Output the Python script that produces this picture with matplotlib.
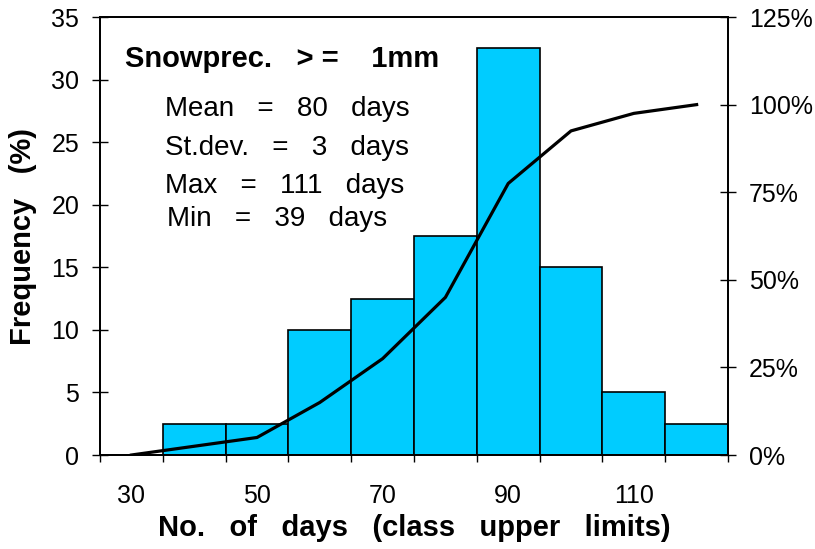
import numpy as np
import matplotlib
matplotlib.use('Agg')
import matplotlib.pyplot as plt
from matplotlib.ticker import FixedLocator, NullFormatter, FixedFormatter

plt.rcParams['font.family'] = ['Liberation Sans', 'DejaVu Sans']

# class upper limits (days) and frequencies (%)
classes = [30, 40, 50, 60, 70, 80, 90, 100, 110, 120]
freq = [0, 2.5, 2.5, 10, 12.5, 17.5, 32.5, 15, 5, 2.5]
cum_pct = [0, 2.5, 5, 15, 27.5, 45, 77.5, 92.5, 97.5, 100]

x_labels = [30, 50, 70, 90, 110]
y_ticks = [0, 5, 10, 15, 20, 25, 30, 35]
pct_ticks = [0, 25, 50, 75, 100, 125]

title = 'Snowprec.   > =    1mm'
stats = ['Mean   =   80   days', 'St.dev.   =   3   days',
         'Max   =   111   days', 'Min   =   39   days']

fig = plt.figure(figsize=(8.15, 5.49), dpi=100)
ax = fig.add_axes([0.1227, 0.1712, 0.7706, 0.7978])

ax.bar(classes, freq, width=10, color='#00CCFF', edgecolor='black', linewidth=1.2, zorder=2)
ax.set_xlim(25, 125)
ax.set_ylim(0, 35)
ax.set_yticks(y_ticks)
ax.tick_params(axis='y', direction='inout', length=12, width=1, labelsize=18, pad=9)

# ticks at class edges, labels at class centres
edges = [c - 5 for c in classes] + [classes[-1] + 5]
ax.xaxis.set_major_locator(FixedLocator(edges))
ax.xaxis.set_major_formatter(NullFormatter())
ax.xaxis.set_minor_locator(FixedLocator(x_labels))
ax.xaxis.set_minor_formatter(FixedFormatter([str(v) for v in x_labels]))
ax.tick_params(axis='x', which='major', direction='out', length=5, width=1)
ax.tick_params(axis='x', which='minor', length=0, labelsize=18, pad=21)

for s in ax.spines.values():
    s.set_linewidth(1.3)

ax.set_xlabel('No.   of   days   (class   upper   limits)', fontsize=21, fontweight='bold', labelpad=4)
ax.set_ylabel('Frequency   (%)', fontsize=21, fontweight='bold', labelpad=10)

ax2 = ax.twinx()
ax2.plot(classes, cum_pct, color='black', linewidth=2.3, zorder=3)
ax2.set_ylim(0, 125)
ax2.set_yticks(pct_ticks)
ax2.set_yticklabels([f'{v}%' for v in pct_ticks])
ax2.tick_params(axis='y', direction='inout', length=12, width=1, labelsize=18, pad=9)
for s in ax2.spines.values():
    s.set_linewidth(1.3)

ax.text(29.0, 31.04, title, fontsize=21, fontweight='bold', va='baseline', ha='left')
ys = [27.1, 24.0, 20.9, 18.3]
xs = [35.4, 35.4, 35.4, 35.7]
for s, x, y in zip(stats, xs, ys):
    ax.text(x, y, s, fontsize=20, va='baseline', ha='left')

fig.savefig('out.png', dpi=100)
